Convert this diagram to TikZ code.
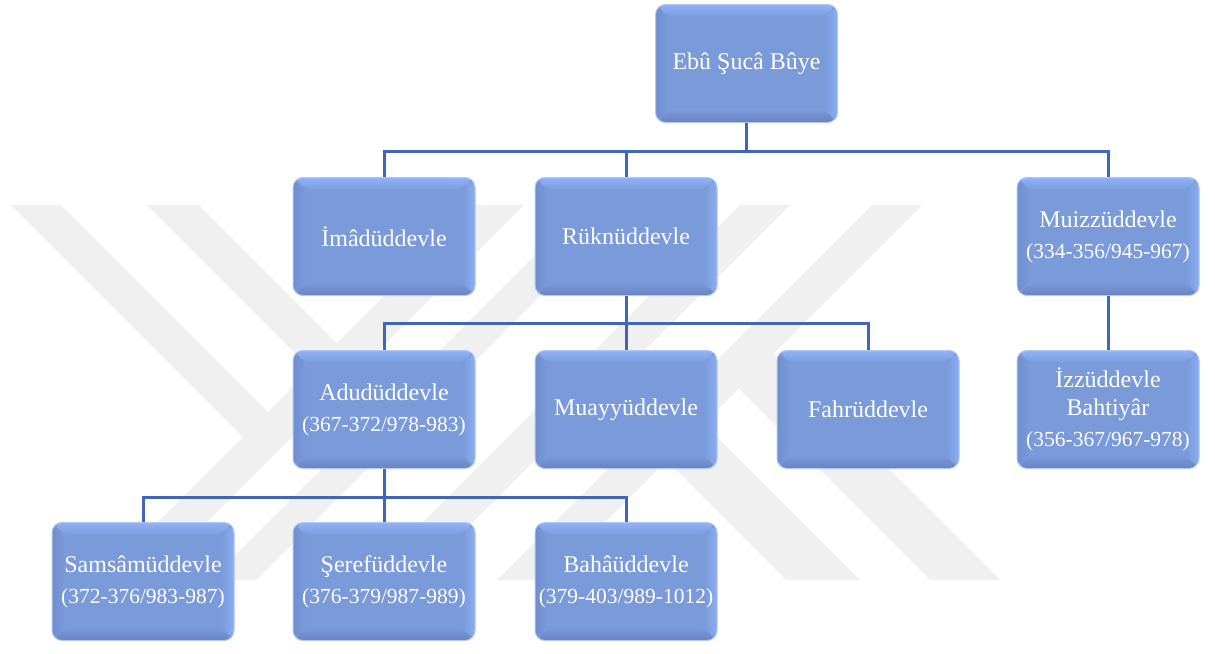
\documentclass[tikz,border=0pt]{standalone}
\usepackage{fontspec}
\setmainfont{Liberation Serif}
\usepackage{tikz}
\usetikzlibrary{calc}

\definecolor{boxface}{HTML}{7A9ADA}
\definecolor{boxtop}{HTML}{8FB3F8}
\definecolor{boxright}{HTML}{8AADF2}
\definecolor{boxleft}{HTML}{6F8ECE}
\definecolor{boxbottom}{HTML}{6883C2}
\definecolor{boxrim}{HTML}{B2C8F2}
\definecolor{linkblue}{HTML}{3F66B8}
\definecolor{wmgray}{HTML}{F0F0F0}

\newcommand{\yrs}[1]{{\fontsize{21.5}{24}\selectfont(#1)}}
\def\bev{13pt}

\tikzset{
  person/.style={rounded corners=10pt, fill=boxface, draw=boxrim, line width=1pt,
    minimum width=182pt, minimum height=118pt, inner sep=0pt,
    text=white, align=center, font=\fontsize{24}{28}\selectfont,
    path picture={
      \path (path picture bounding box.north west) coordinate (pnw)
            (path picture bounding box.north east) coordinate (pne)
            (path picture bounding box.south west) coordinate (psw)
            (path picture bounding box.south east) coordinate (pse);
      \shade[top color=boxtop, bottom color=boxface] (pnw) -- (pne) -- ([xshift=-\bev,yshift=-\bev]pne) -- ([xshift=\bev,yshift=-\bev]pnw) -- cycle;
      \shade[top color=boxface, bottom color=boxbottom] (psw) -- (pse) -- ([xshift=-\bev,yshift=\bev]pse) -- ([xshift=\bev,yshift=\bev]psw) -- cycle;
      \shade[left color=boxleft, right color=boxface] (pnw) -- ([xshift=\bev,yshift=-\bev]pnw) -- ([xshift=\bev,yshift=\bev]psw) -- (psw) -- cycle;
      \shade[left color=boxface, right color=boxright] (pne) -- ([xshift=-\bev,yshift=-\bev]pne) -- ([xshift=-\bev,yshift=\bev]pse) -- (pse) -- cycle;
    }},
  link/.style={draw=linkblue, line width=3pt},
}

\begin{document}
\begin{tikzpicture}[x=1pt, y=-1pt]
% Define the layout (picture units, y pointing down)
\pgfmathsetmacro{\rowA}{63.5}
\pgfmathsetmacro{\rowB}{236.5}
\pgfmathsetmacro{\rowC}{409.5}
\pgfmathsetmacro{\rowD}{581.5}
\pgfmathsetmacro{\busA}{151}
\pgfmathsetmacro{\busB}{323}
\pgfmathsetmacro{\busC}{497}

\useasboundingbox (0,0) rectangle (1215,653);

% Watermark in the background
\fill[wmgray] (11,205) -- (61,205) -- (268,412) -- (243,437) -- cycle;
\fill[wmgray] (147,205) -- (199,205) -- (337,343) -- (311,369) -- cycle;
\fill[wmgray] (475,205) -- (524,205) -- (149,580) -- (100,580) -- cycle;
\fill[wmgray] (585,205) -- (631,205) -- (256,580) -- (210,580) -- cycle;
\fill[wmgray] (740,205) -- (790,205) -- (415,580) -- (365,580) -- cycle;
\fill[wmgray] (872,205) -- (922,205) -- (547,580) -- (497,580) -- cycle;
\fill[wmgray] (637.5,357.5) -- (600.5,394.5) -- (786,580) -- (860,580) -- cycle;
\fill[wmgray] (773.5,353.5) -- (738.5,388.5) -- (930,580) -- (1000,580) -- cycle;

% Junctions of the links
\coordinate (hubA) at (746.5,\busA);
\coordinate (hubB) at (626,\busB);
\coordinate (hubC) at (384,\busC);

% Draw persons
\node[person] (ebu) at (746.5,\rowA) {Ebû Şucâ Bûye};
%
\node[person] (imad) at (384,\rowB) {İmâdüddevle};
\node[person] (rukn) at (626,\rowB) {Rüknüddevle};
\node[person] (muizz) at (1108,\rowB) {Muizzüddevle\\[3pt]\yrs{334-356/945-967}};
%
\node[person] (adud) at (384,\rowC) {Adudüddevle\\[3pt]\yrs{367-372/978-983}};
\node[person] (muay) at (626,\rowC) {Muayyüddevle};
\node[person] (fahr) at (868,\rowC) {Fahrüddevle};
\node[person] (izz) at (1108,\rowC) {İzzüddevle\\Bahtiyâr\\[3pt]\yrs{356-367/967-978}};
%
\node[person] (samsam) at (143,\rowD) {Samsâmüddevle\\[3pt]\yrs{372-376/983-987}};
\node[person] (seref) at (384,\rowD) {Şerefüddevle\\[3pt]\yrs{376-379/987-989}};
\node[person] (baha) at (626,\rowD) {Bahâüddevle\\[3pt]\yrs{379-403/989-1012}};

% Connect the generations
\draw[link] (ebu.south) -- (hubA);
\draw[link] (hubA) -| (imad.north);
\draw[link] (hubA) -| (rukn.north);
\draw[link] (hubA) -| (muizz.north);
%
\draw[link] (rukn.south) -- (hubB);
\draw[link] (hubB) -| (adud.north);
\draw[link] (hubB) -- (muay.north);
\draw[link] (hubB) -| (fahr.north);
%
\draw[link] (muizz.south) -- (izz.north);
%
\draw[link] (adud.south) -- (hubC);
\draw[link] (hubC) -| (samsam.north);
\draw[link] (hubC) -- (seref.north);
\draw[link] (hubC) -| (baha.north);

\end{tikzpicture}
\end{document}
